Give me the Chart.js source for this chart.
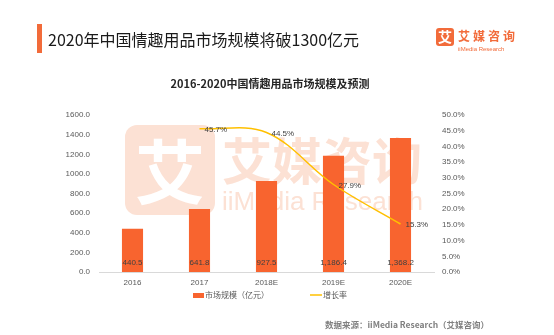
<!DOCTYPE html>
<html>
<head>
<meta charset="utf-8">
<script src="https://cdn.jsdelivr.net/npm/chart.js@4.4.0/dist/chart.umd.min.js"></script>
<style>
    html, body { margin: 0; padding: 0; background: #fff; }
    #wrap { position: relative; width: 554px; height: 335px; }
</style>
</head>
<body>
<div id="wrap"><canvas id="grafico" width="554" height="335"></canvas></div>
<script>
// =======================
// DADOS
// =======================
const anos = ["2016", "2017", "2018E", "2019E", "2020E"];
const mercado = [440.5, 641.8, 927.5, 1186.4, 1368.2];
const crescimento = [null, 45.7, 44.5, 27.9, 15.3];
const ticksMercado = [0, 200, 400, 600, 800, 1000, 1200, 1400, 1600];
const ticksCrescimento = [0, 5, 10, 15, 20, 25, 30, 35, 40, 45, 50];

const nomeMercado = "市场规模（亿元）";
const nomeCrescimento = "增长率";
const tituloPagina = "2020年中国情趣用品市场规模将破1300亿元";
const tituloGrafico = "2016-2020中国情趣用品市场规模及预测";
const fonteDados = "数据来源：iiMedia Research（艾媒咨询）";

// =======================
// ESTILO
// =======================
const LARANJA = "#F8642F";
const AMARELO = "#FFC000";
const MARCA = "#FCE1D4";
const TEXTO = "#404040";
const CINZA = "#595959";
const FONTE = '"Liberation Sans", "Noto Sans CJK SC", sans-serif';
const FONTE_CN = '"Noto Sans CJK SC", "Liberation Sans", sans-serif';

Chart.defaults.font.family = FONTE;
Chart.defaults.color = CINZA;

// =======================
// FORMATO
// =======================
function formatarValor(v) {
    return v.toLocaleString("en-US", { minimumFractionDigits: 1, maximumFractionDigits: 1 });
}

// =======================
// PLUGINS
// =======================
const marcaDagua = {
    id: "marcaDagua",
    beforeDatasetsDraw(chart) {
        const ctx = chart.ctx;
        ctx.save();
        ctx.fillStyle = MARCA;
        ctx.beginPath();
        ctx.roundRect(125, 125, 90, 90, 12);
        ctx.fill();

        ctx.fillStyle = "#fff";
        ctx.font = `bold 70px ${FONTE_CN}`;
        ctx.textAlign = "center";
        ctx.textBaseline = "middle";
        ctx.fillText("艾", 170, 172);

        ctx.fillStyle = MARCA;
        ctx.textAlign = "left";
        ctx.font = `bold 50px ${FONTE_CN}`;
        ctx.fillText("艾媒咨询", 222, 161);
        ctx.font = `26px ${FONTE}`;
        ctx.fillText("iiMedia Research", 222, 203);
        ctx.restore();
    }
};

const rotulos = {
    id: "rotulos",
    afterDatasetsDraw(chart) {
        const ctx = chart.ctx;
        const base = chart.scales.y.getPixelForValue(0);
        ctx.save();
        ctx.font = `8px ${FONTE}`;
        ctx.fillStyle = TEXTO;
        ctx.textBaseline = "middle";

        ctx.textAlign = "center";
        chart.getDatasetMeta(0).data.forEach((bar, i) => {
            ctx.fillText(formatarValor(mercado[i]), bar.x, base - 9);
        });

        ctx.textAlign = "left";
        chart.getDatasetMeta(1).data.forEach((pt, i) => {
            if (crescimento[i] === null) return;
            ctx.fillText(crescimento[i].toFixed(1) + "%", pt.x + 5, pt.y + 1);
        });
        ctx.restore();
    }
};

const moldura = {
    id: "moldura",
    afterDraw(chart) {
        const ctx = chart.ctx;
        ctx.save();

        // cabecalho
        ctx.fillStyle = "#F26B3A";
        ctx.fillRect(37, 24, 5, 29);
        ctx.fillStyle = "#1a1a1a";
        ctx.font = `16px ${FONTE_CN}`;
        ctx.textBaseline = "middle";
        ctx.textAlign = "left";
        ctx.fillText(tituloPagina, 48, 40);

        // logo
        ctx.fillStyle = "#F26B3A";
        ctx.beginPath();
        ctx.roundRect(436, 28, 18, 18, 3);
        ctx.fill();
        ctx.fillStyle = "#fff";
        ctx.font = `bold 14px ${FONTE_CN}`;
        ctx.textAlign = "center";
        ctx.fillText("艾", 445, 37);
        ctx.fillStyle = "#F26B3A";
        ctx.textAlign = "left";
        ctx.font = `bold 12px ${FONTE_CN}`;
        ctx.letterSpacing = "3px";
        ctx.fillText("艾媒咨询", 458, 36);
        ctx.letterSpacing = "0px";
        ctx.font = `6px ${FONTE}`;
        ctx.fillText("iiMedia Research", 458, 49);

        // legenda
        ctx.fillStyle = LARANJA;
        ctx.fillRect(193, 293, 11, 5);
        ctx.strokeStyle = AMARELO;
        ctx.lineWidth = 1.5;
        ctx.beginPath();
        ctx.moveTo(310, 295);
        ctx.lineTo(322, 295);
        ctx.stroke();
        ctx.fillStyle = CINZA;
        ctx.font = `8px ${FONTE_CN}`;
        ctx.fillText(nomeMercado, 205, 295);
        ctx.fillText(nomeCrescimento, 323, 295);

        // fonte
        ctx.fillStyle = "#808080";
        ctx.font = `bold 8.5px ${FONTE_CN}`;
        ctx.fillText(fonteDados, 325, 325);

        ctx.restore();
    }
};

// =======================
// GRAFICO
// =======================
new Chart(document.getElementById("grafico"), {
    type: "bar",
    data: {
        labels: anos,
        datasets: [
            {
                type: "bar",
                label: nomeMercado,
                data: mercado,
                backgroundColor: LARANJA,
                yAxisID: "y",
                categoryPercentage: 0.35,
                barPercentage: 0.9,
                order: 2
            },
            {
                type: "line",
                label: nomeCrescimento,
                data: crescimento,
                borderColor: AMARELO,
                borderWidth: 1.5,
                pointRadius: 0,
                tension: 0.35,
                yAxisID: "y1",
                order: 1
            }
        ]
    },
    options: {
        responsive: false,
        animation: false,
        layout: { padding: { top: 70, right: 14, bottom: 43, left: 0 } },
        plugins: {
            legend: { display: false },
            tooltip: { enabled: false },
            title: {
                display: true,
                text: tituloGrafico,
                color: "#262626",
                font: { family: FONTE_CN, size: 11, weight: "bold" },
                padding: { top: 7, bottom: 25 }
            }
        },
        scales: {
            x: {
                grid: { display: false, drawTicks: false },
                border: { display: true, color: "#d9d9d9" },
                ticks: { font: { size: 8 }, color: CINZA, padding: 6 },
                afterFit(scale) { scale.height = 20; }
            },
            y: {
                position: "left",
                min: 0,
                max: 1600,
                grid: { display: false, drawTicks: false },
                border: { display: false },
                afterBuildTicks(scale) { scale.ticks = ticksMercado.map(v => ({ value: v })); },
                ticks: {
                    font: { size: 8 },
                    color: CINZA,
                    padding: 9,
                    callback: v => v.toFixed(1)
                },
                afterFit(scale) { scale.width = 99; }
            },
            y1: {
                position: "right",
                min: 0,
                max: 50,
                grid: { display: false, drawTicks: false },
                border: { display: false },
                afterBuildTicks(scale) { scale.ticks = ticksCrescimento.map(v => ({ value: v })); },
                ticks: {
                    font: { size: 8 },
                    color: CINZA,
                    padding: 8,
                    callback: v => v.toFixed(1) + "%"
                },
                afterFit(scale) { scale.width = 106; }
            }
        }
    },
    plugins: [marcaDagua, rotulos, moldura]
});
</script>
</body>
</html>
